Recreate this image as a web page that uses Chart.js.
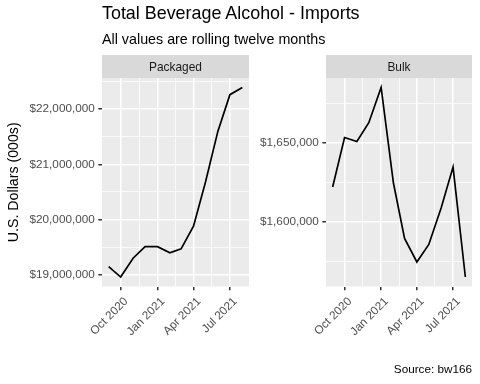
<!DOCTYPE html>
<html>
<head>
<meta charset="utf-8">
<script src="https://cdn.jsdelivr.net/npm/chart.js@4.4.1/dist/chart.umd.min.js"></script>
<style>
  html, body { margin: 0; padding: 0; background: #ffffff; }
  #wrap { position: relative; width: 480px; height: 384px; overflow: hidden;
          font-family: "Liberation Sans", Arial, sans-serif; }
  .txt { position: absolute; white-space: nowrap; line-height: 1; color: #000; }
  canvas { position: absolute; top: 0; }
</style>
</head>
<body>
<div id="wrap">
  <canvas id="c1" width="255" height="384" style="left:0px;width:255px;height:384px"></canvas>
  <canvas id="c2" width="225" height="384" style="left:255px;width:225px;height:384px"></canvas>
  <div class="txt" id="title" style="left:102px;top:4.9px;font-size:17.9px;">Total Beverage Alcohol - Imports</div>
  <div class="txt" id="subtitle" style="left:102px;top:31.7px;font-size:14.3px;">All values are rolling twelve months</div>
  <div class="txt" id="caption" style="right:8px;top:363.4px;font-size:11.73px;">Source: bw166</div>
</div>
<script>
// ---- data ----
const months = ["2020-09-01","2020-10-01","2020-11-01","2020-12-01","2021-01-01","2021-02-01",
                "2021-03-01","2021-04-01","2021-05-01","2021-06-01","2021-07-01","2021-08-01"];
const packaged = [19150000, 18960000, 19300000, 19510000, 19510000, 19400000,
                  19470000, 19880000, 20680000, 21600000, 22260000, 22390000];
const bulk = [1622300, 1653600, 1651100, 1663000, 1685300, 1624800,
              1589700, 1574800, 1585900, 1609000, 1634900, 1565300];
const panelNames = ["Packaged", "Bulk"];
const xTickDates = ["2020-10-01","2021-01-01","2021-04-01","2021-07-01"];
const xTickLabels = ["Oct 2020","Jan 2021","Apr 2021","Jul 2021"];
const packagedTicks = [19000000, 20000000, 21000000, 22000000];
const bulkTicks = [1600000, 1650000];
const yTitle = "U.S. Dollars (000s)";

// ---- helpers ----
const FONT = "'Liberation Sans', Arial, sans-serif";
const toDay = s => Date.UTC(+s.slice(0,4), +s.slice(5,7) - 1, +s.slice(8,10)) / 86400000;
const monthDays = months.map(toDay);
const xMajor = xTickDates.map(toDay);

function expand(vals) {
  const lo = Math.min(...vals), hi = Math.max(...vals), r = hi - lo;
  return [lo - 0.05 * r, hi + 0.05 * r];
}
const [xMin, xMax] = expand(monthDays);

function xTickList() {
  const list = xMajor.map(v => ({ value: v, minor: false }));
  for (let i = 0; i < xMajor.length - 1; i++) {
    list.push({ value: (xMajor[i] + xMajor[i + 1]) / 2, minor: true });
  }
  return list.sort((a, b) => a.value - b.value);
}
function yTickList(major, lo, hi) {
  const step = major[1] - major[0];
  const list = major.map(v => ({ value: v, minor: false }));
  const cands = [major[0] - step / 2].concat(major.map(v => v + step / 2));
  cands.forEach(v => { if (v > lo && v < hi) list.push({ value: v, minor: true }); });
  return list.sort((a, b) => a.value - b.value);
}
const dollar = v => '$' + Math.round(v).toLocaleString('en-US');

const panelPlugin = {
  id: 'panel',
  beforeDraw(chart, args, opts) {
    const { ctx, chartArea: a } = chart;
    ctx.save();
    ctx.fillStyle = '#EBEBEB';
    ctx.fillRect(a.left, a.top, a.right - a.left, a.bottom - a.top);
    ctx.fillStyle = '#D9D9D9';
    ctx.fillRect(a.left, 55, a.right - a.left, a.top - 55);
    ctx.fillStyle = '#1A1A1A';
    ctx.font = "11.9px " + FONT;
    ctx.textAlign = 'center';
    ctx.textBaseline = 'alphabetic';
    ctx.fillText(opts.strip, (a.left + a.right) / 2, 70.7);
    if (opts.yTitle) {
      ctx.translate(17.8, (a.top + a.bottom) / 2);
      ctx.rotate(-Math.PI / 2);
      ctx.fillStyle = '#000000';
      ctx.font = "14.2px " + FONT;
      ctx.fillText(opts.yTitle, 0, 0);
    }
    ctx.restore();
  }
};

function makeChart(id, values, yMajor, strip, yAxisWidth, padRight, title) {
  const [yMin, yMax] = expand(values);
  const xLabelMap = new Map(xMajor.map((v, i) => [v, xTickLabels[i]]));
  const gridOpts = {
    color: '#FFFFFF',
    lineWidth: c => (c.tick && c.tick.minor) ? 0.75 : 1.5,
    drawTicks: true,
    tickLength: 3.67,
    tickWidth: 1.5,
    tickColor: c => (c.tick && c.tick.minor) ? 'rgba(0,0,0,0)' : '#333333'
  };
  return new Chart(document.getElementById(id), {
    type: 'line',
    data: {
      datasets: [{
        data: monthDays.map((d, i) => ({ x: d, y: values[i] })),
        borderColor: '#000000',
        borderWidth: 1.7,
        pointRadius: 0,
        tension: 0,
        fill: false
      }]
    },
    options: {
      responsive: false,
      animation: false,
      events: [],
      layout: { padding: { top: 78, left: 0, right: padRight, bottom: 0 } },
      plugins: {
        legend: { display: false },
        tooltip: { enabled: false },
        title: { display: false },
        panel: { strip: strip, yTitle: title }
      },
      scales: {
        x: {
          type: 'linear',
          min: xMin, max: xMax,
          afterBuildTicks: s => { s.ticks = xTickList(); },
          afterFit: s => { s.height = 97.5; },
          border: { display: false },
          grid: gridOpts,
          ticks: {
            autoSkip: false, minRotation: 45, maxRotation: 45,
            padding: 4.4, labelOffset: 5.5,
            color: '#4D4D4D', font: { family: FONT, size: 11.73 },
            callback: v => xLabelMap.has(v) ? xLabelMap.get(v) : ''
          }
        },
        y: {
          type: 'linear',
          min: yMin, max: yMax,
          afterBuildTicks: s => { s.ticks = yTickList(yMajor, yMin, yMax); },
          afterFit: s => { s.width = yAxisWidth; },
          border: { display: false },
          grid: gridOpts,
          ticks: {
            padding: 3.6,
            color: '#4D4D4D', font: { family: FONT, size: 11.73 },
            callback: v => yMajor.includes(v) ? dollar(v) : ''
          }
        }
      }
    },
    plugins: [panelPlugin]
  });
}

makeChart('c1', packaged, packagedTicks, panelNames[0], 102, 6, yTitle);
makeChart('c2', bulk, bulkTicks, panelNames[1], 71, 8, null);
</script>
</body>
</html>
